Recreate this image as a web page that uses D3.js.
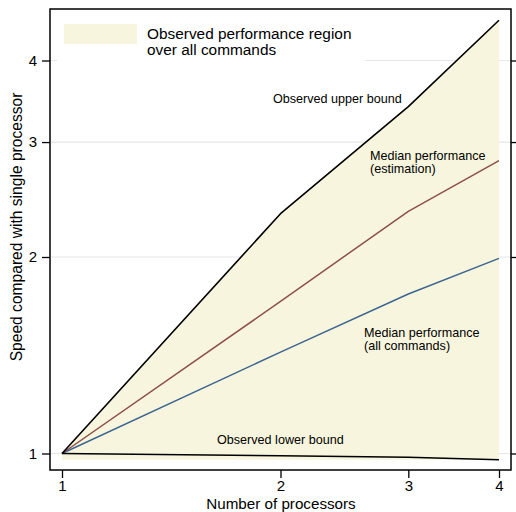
<!DOCTYPE html>
<html>
<head>
<meta charset="utf-8">
<script src="https://cdn.jsdelivr.net/npm/d3@7"></script>
<style>
  body { margin: 0; background: #fff; }
  text { font-family: "Liberation Sans", Arial, Helvetica, sans-serif; fill: #000; }
</style>
</head>
<body>
<svg id="chart" width="516" height="512"></svg>
<script>
// Data
const processors = [1, 2, 3, 4];
const upperBound = [1, 2.33, 3.40, 4.61];
const medianEstimation = [1, 1.71, 2.35, 2.81];
const medianAll = [1, 1.43, 1.755, 1.99];
const lowerBound = [1, 0.992, 0.987, 0.978];
const regionFloor = [0.978, 0.978, 0.978, 0.978];
const xTicks = [1, 2, 3, 4];
const yTicks = [1, 2, 3, 4];

const svg = d3.select('#chart');

const frame = { left: 50, top: 9, right: 511, bottom: 470 };

const x = d3.scaleLog().domain([1, 4]).range([62, 499]);
const y = d3.scaleLog().domain([1, 4]).range([453.5, 60.5]);

// Gridlines
svg.append('g')
  .selectAll('line')
  .data(yTicks)
  .join('line')
  .attr('x1', frame.left)
  .attr('x2', frame.right)
  .attr('y1', d => y(d))
  .attr('y2', d => y(d))
  .attr('stroke', '#e6e6ea')
  .attr('stroke-width', 1.2);

// Observed region
const rows = processors.map((p, i) => ({ p, hi: upperBound[i], lo: regionFloor[i] }));
svg.append('path')
  .datum(rows)
  .attr('fill', '#f7f5dd')
  .attr('d', d3.area()
    .x(d => x(d.p))
    .y0(d => y(d.lo))
    .y1(d => y(d.hi)));

// Lines
function drawLine(values, color, width) {
  svg.append('path')
    .datum(processors.map((p, i) => [p, values[i]]))
    .attr('fill', 'none')
    .attr('stroke', color)
    .attr('stroke-width', width)
    .attr('stroke-linejoin', 'round')
    .attr('d', d3.line().x(d => x(d[0])).y(d => y(d[1])));
}
drawLine(medianAll, '#3d6592', 1.5);
drawLine(medianEstimation, '#8e4f4b', 1.5);
drawLine(lowerBound, '#000', 1.6);
drawLine(upperBound, '#000', 1.6);

// Legend
svg.append('rect')
  .attr('x', 57).attr('y', 14).attr('width', 308).attr('height', 52)
  .attr('fill', '#fff');
svg.append('rect')
  .attr('x', 64).attr('y', 24).attr('width', 73).attr('height', 20)
  .attr('fill', '#f7f5dd');
svg.append('text').attr('x', 147).attr('y', 39).attr('font-size', 15.4)
  .text('Observed performance region');
svg.append('text').attr('x', 147).attr('y', 55).attr('font-size', 15.4)
  .text('over all commands');

// Annotations
const notes = [
  { x: 273, y: 103, lines: ['Observed upper bound'] },
  { x: 370, y: 160, lines: ['Median performance', '(estimation)'] },
  { x: 364, y: 337, lines: ['Median performance', '(all commands)'] },
  { x: 217, y: 444, lines: ['Observed lower bound'] }
];
notes.forEach(n => {
  const t = svg.append('text').attr('x', n.x).attr('y', n.y).attr('font-size', 12.6);
  n.lines.forEach((l, i) => {
    t.append('tspan').attr('x', n.x).attr('dy', i === 0 ? 0 : 12.5).text(l);
  });
});

// Frame
svg.append('rect')
  .attr('x', frame.left).attr('y', frame.top)
  .attr('width', frame.right - frame.left)
  .attr('height', frame.bottom - frame.top)
  .attr('fill', 'none')
  .attr('stroke', '#000')
  .attr('stroke-width', 1.5);

// Axes
const xAxis = svg.append('g')
  .attr('transform', `translate(0,${frame.bottom})`)
  .call(d3.axisBottom(x).tickValues(xTicks).tickFormat(d3.format('d')).tickSize(8).tickPadding(2));
xAxis.select('.domain').remove();

const yAxis = svg.append('g')
  .attr('transform', `translate(${frame.left},0)`)
  .call(d3.axisLeft(y).tickValues(yTicks).tickFormat(d3.format('d')).tickSize(8).tickPadding(5));
yAxis.select('.domain').remove();

const yAxisRight = svg.append('g')
  .attr('transform', `translate(${frame.right},0)`)
  .call(d3.axisRight(y).tickValues(yTicks).tickFormat('').tickSize(8));
yAxisRight.select('.domain').remove();

svg.selectAll('.tick line').attr('stroke', '#000').attr('stroke-width', 1.3);
svg.selectAll('.tick text')
  .attr('font-size', 15)
  .attr('font-family', '"Liberation Sans", Arial, sans-serif')
  .attr('fill', '#000');

// Axis titles
svg.append('text')
  .attr('x', 281).attr('y', 509)
  .attr('text-anchor', 'middle')
  .attr('font-size', 15.2)
  .text('Number of processors');

svg.append('text')
  .attr('transform', 'translate(22,227) rotate(-90)')
  .attr('text-anchor', 'middle')
  .attr('font-size', 15.6)
  .text('Speed compared with single processor');
</script>
</body>
</html>
